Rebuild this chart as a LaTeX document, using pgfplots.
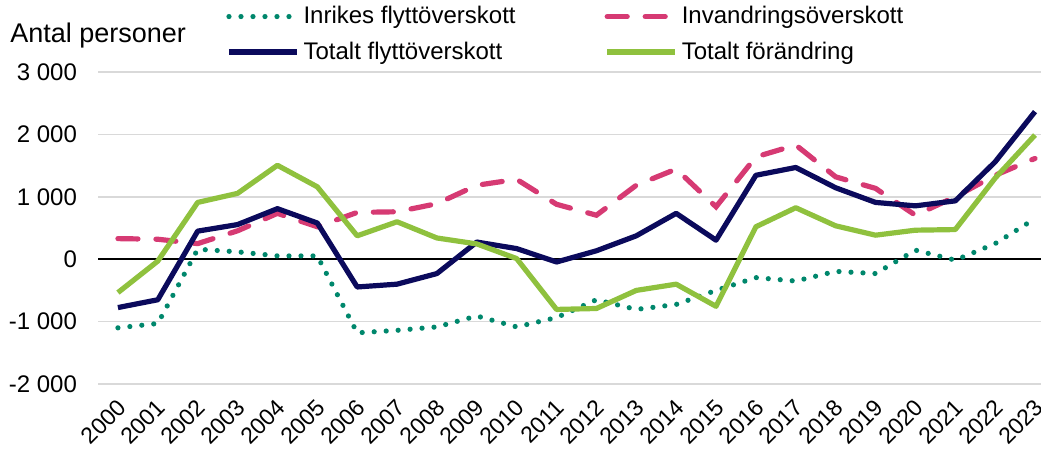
\documentclass[border=0pt]{standalone}
\usepackage{pgfplots}
\usepackage{pgfplotstable}
\usepackage{fontspec}
\setmainfont{Liberation Sans}
\pgfplotsset{compat=1.18}
\definecolor{cTeal}{HTML}{00876C}
\definecolor{cPink}{HTML}{D63A73}
\definecolor{cNavy}{HTML}{0B0A5C}
\definecolor{cGreen}{HTML}{8FC13E}
\definecolor{cGrid}{HTML}{D9D9D9}
\pgfplotstableread{
year inrikes invandring totaltflytt forandring
2000 -1100 330 -775 -535
2001 -1030 320 -650 -30
2002 160 250 450 910
2003 118 455 555 1055
2004 53 735 810 1505
2005 53 520 580 1160
2006 -1180 750 -445 375
2007 -1140 760 -400 600
2008 -1085 890 -230 340
2009 -910 1185 275 245
2010 -1085 1280 170 10
2011 -935 880 -45 -805
2012 -650 705 135 -790
2013 -805 1185 375 -500
2014 -725 1445 735 -400
2015 -500 840 305 -755
2016 -295 1640 1345 520
2017 -350 1830 1470 825
2018 -195 1320 1145 535
2019 -230 1135 910 385
2020 145 705 855 465
2021 -15 1000 935 475
2022 250 1345 1560 1300
2023 650 1615 2365 1990
}\data
\begin{document}
\begin{tikzpicture}
\path[use as bounding box] (0bp,0bp) rectangle (520.5bp,225bp);
\begin{axis}[
  at={(49bp,33bp)}, anchor=south west,
  scale only axis,
  width=471.5bp, height=156bp,
  xmin=1999.5, xmax=2023.15,
  ymin=-2000, ymax=3000,
  clip=false,
  axis line style={draw=none},
  tick style={draw=none},
  ymajorgrids,
  grid style={cGrid, line width=0.8bp},
  ytick={-2000,-1000,0,1000,2000,3000},
  yticklabels={-2 000,-1 000,0,1 000,2 000,3 000},
  yticklabel style={font=\fontsize{12bp}{14bp}\selectfont, xshift=-7bp},
  xtick={2000,2001,2002,2003,2004,2005,2006,2007,2008,2009,2010,2011,2012,2013,2014,2015,2016,2017,2018,2019,2020,2021,2022,2023},
  xticklabels={2000,2001,2002,2003,2004,2005,2006,2007,2008,2009,2010,2011,2012,2013,2014,2015,2016,2017,2018,2019,2020,2021,2022,2023},
  xticklabel style={font=\fontsize{11.5bp}{13bp}\selectfont, rotate=45, anchor=north east, inner sep=0.5bp, xshift=-5bp, yshift=-3.5bp},
  legend columns=2,
  legend cell align=left,
  legend style={draw=none, fill=none, at={(0,1)}, anchor=north west,
    xshift=61bp, yshift=37bp,
    font=\fontsize{12bp}{14bp}\selectfont,
    /tikz/every even column/.append style={column sep=42.5bp},
    row sep=3.5bp},
  legend image code/.code={\draw[#1] (0bp,0bp) -- (34bp,0bp);},
]
\addplot[black, line width=0.8bp, forget plot] coordinates {(1999.5,0) (2023.15,0)};
\addplot[cTeal, line width=2.6bp, line cap=round, dash pattern=on 0bp off 6bp] table[x=year,y=inrikes]{\data};
\addlegendentry{Inrikes flyttöverskott}
\addplot[cPink, line width=2.6bp, line cap=round, dash pattern=on 10bp off 9bp] table[x=year,y=invandring]{\data};
\addlegendentry{Invandringsöverskott}
\addplot[cNavy, line width=2.6bp, line join=round] table[x=year,y=totaltflytt]{\data};
\addlegendentry{Totalt flyttöverskott}
\addplot[cGreen, line width=2.6bp, line join=round] table[x=year,y=forandring]{\data};
\addlegendentry{Totalt förändring}
\node[anchor=base west, font=\fontsize{13.5bp}{15bp}\selectfont, inner sep=0pt] at (rel axis cs:0,1) [xshift=-44bp, yshift=15bp] {Antal personer};
\end{axis}
\end{tikzpicture}
\end{document}
